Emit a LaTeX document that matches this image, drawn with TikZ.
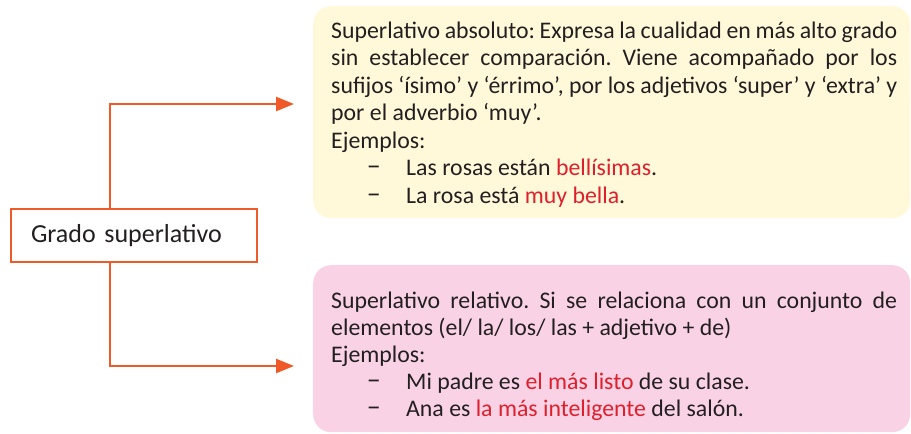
\documentclass[tikz,border=0pt]{standalone}
\usepackage{fontspec}
\setmainfont{Carlito}
\usepackage{xcolor}
\usepackage{tikz}
\usetikzlibrary{positioning, arrows.meta, calc}

\definecolor{gradoorange}{RGB}{240,90,40}
\definecolor{absyellow}{RGB}{255,249,217}
\definecolor{relpink}{RGB}{249,211,229}
\definecolor{ejred}{RGB}{222,32,44}
\definecolor{inkgray}{RGB}{35,31,32}

\newcommand{\ejemplo}[1]{\par\hspace*{36pt}\makebox[39pt][l]{\fontsize{27}{27}\selectfont −}#1}
\newcommand{\resalta}[1]{\textcolor{ejred}{#1}}
\frenchspacing

\begin{document}
\begin{tikzpicture}[
    x=1pt,y=-1pt,
    font=\fontsize{23.8}{27.5}\selectfont, text=inkgray,
    grado/.style={draw=gradoorange, line width=2.5pt, rectangle, minimum width=246pt, minimum height=53pt, text width=206pt, inner xsep=20pt, align=left, fill=white, font=\fontsize{26}{30}\selectfont},
    infobox/.style={rectangle, rounded corners=18pt, anchor=north west},
    infotext/.style={text width=566pt, align=justify, inner sep=0pt, anchor=base west},
    link/.style={draw=gradoorange, line width=2.5pt, -{Triangle[length=18pt, width=14pt]}}
]
    \useasboundingbox (0,0) rectangle (911,434);

    % --- Boxes ---
    \node[infobox, fill=absyellow, minimum width=597pt, minimum height=212pt] (absbox) at (313,6) {};
    \node[infobox, fill=relpink, minimum width=597pt, minimum height=167pt] (relbox) at (313,265) {};

    % --- Texts ---
    \node[infotext] (abstext) at (331,38) {Superlativo absoluto: Expresa la cualidad en más alto grado\linebreak
        sin establecer comparación. Viene acompañado por los\linebreak
        sufijos ‘ísimo’ y ‘érrimo’, por los adjetivos ‘super’ y ‘extra’ y\linebreak
        por el adverbio ‘muy’.\par
        Ejemplos:
        \ejemplo{Las rosas están \resalta{bellísimas}.}
        \ejemplo{La rosa está \resalta{muy bella}.}};
    \node[infotext, font=\fontsize{23.8}{27.2}\selectfont] (reltext) at (331,308) {Superlativo relativo. Si se relaciona con un conjunto de\linebreak
        elementos (el/ la/ los/ las + adjetivo + de)\par
        Ejemplos:
        \ejemplo{Mi padre es \resalta{el más listo} de su clase.}
        \ejemplo{Ana es \resalta{la más inteligente} del salón.}};

    % --- Hub ---
    \node[grado] (grado) at (134,235.5) {Grado superlativo};

    % --- Connectors ---
    \coordinate (absend) at (294,104);
    \coordinate (relend) at (294,366);
    \draw[link] ([xshift=-24pt]grado.north) |- (absend);
    \draw[link] ([xshift=-24pt]grado.south) |- (relend);

\end{tikzpicture}
\end{document}
